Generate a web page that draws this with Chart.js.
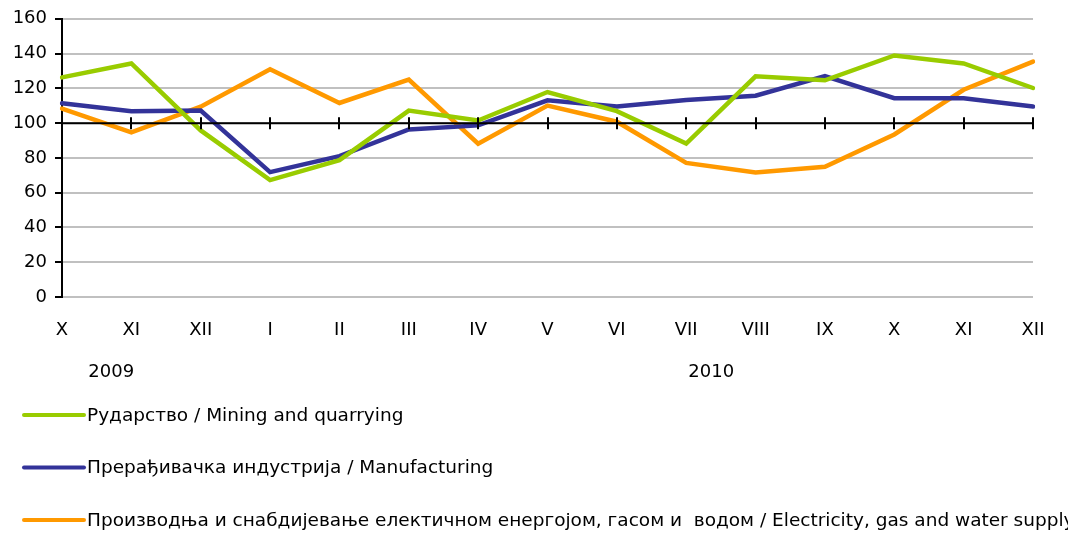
<!DOCTYPE html>
<html>
<head>
<meta charset="utf-8">
<script src="https://cdn.jsdelivr.net/npm/chart.js@4.4.1/dist/chart.umd.min.js"></script>
<style>
html,body{margin:0;padding:0;background:#fff;}
#wrap{width:1068px;height:536px;position:relative;overflow:hidden;}
</style>
</head>
<body>
<div id="wrap"><canvas id="c" width="1068" height="536"></canvas></div>
<script>
const months = ['X','XI','XII','I','II','III','IV','V','VI','VII','VIII','IX','X','XI','XII'];
const years = [{label:'2009', pos:0.71},{label:'2010', pos:9.36}];
const yTicks = [0,20,40,60,80,100,120,140,160];
const mining = [126.3,134.3,95.8,67.2,78.7,107.2,101.5,117.9,106.9,88.2,126.9,124.6,138.9,134.3,120.2];
const manufacturing = [111.4,106.9,107.2,71.8,81,96.4,98.7,113.1,109.5,113.3,115.8,127,114.3,114.3,109.5];
const electricity = [108.4,94.7,109.5,131,111.6,125,88.2,110.1,100.8,77.1,71.6,74.9,93.5,119.2,135.4];
const seriesNames = [
  'Рударство / Mining and quarrying',
  'Прерађивачка индустрија / Manufacturing',
  'Производња и снабдијевање електичном енергојом, гасом и  водом / Electricity, gas and water supply'
];
const colors = ['#99CC00','#333399','#FF9900'];
const FONT = 'DejaVu Sans, Verdana, sans-serif';

const overlay = {
  id:'overlay',
  afterDatasetsDraw(chart){
    const ctx = chart.ctx, x = chart.scales.x, y = chart.scales.y;
    const y100 = y.getPixelForValue(100);
    ctx.save();
    ctx.strokeStyle = '#000'; ctx.lineWidth = 2;
    ctx.beginPath();
    ctx.moveTo(x.left, y100); ctx.lineTo(x.right, y100);
    for (let i = 0; i < months.length; i++) {
      const px = Math.round(x.getPixelForValue(i));
      ctx.moveTo(px, y100 - 6); ctx.lineTo(px, y100 + 6);
    }
    ctx.stroke();
    ctx.restore();
  },
  afterDraw(chart){
    const ctx = chart.ctx, x = chart.scales.x;
    ctx.save();
    ctx.fillStyle = '#000';
    ctx.font = '18px ' + FONT;
    ctx.textAlign = 'center'; ctx.textBaseline = 'middle';
    years.forEach(yr => ctx.fillText(yr.label, x.getPixelForValue(yr.pos), 372));
    ctx.textAlign = 'left';
    ctx.font = '18.5px ' + FONT;
    chart.data.datasets.forEach((ds, i) => {
      const cy = 415 + i * 52.5;
      ctx.strokeStyle = ds.borderColor; ctx.lineWidth = 4; ctx.lineCap = 'round';
      ctx.beginPath(); ctx.moveTo(24, cy); ctx.lineTo(84, cy); ctx.stroke();
      ctx.fillText(ds.label, 87, cy + 1);
    });
    ctx.restore();
  }
};

new Chart(document.getElementById('c'), {
  type:'line',
  data:{
    labels: months,
    datasets:[
      {label:seriesNames[0], data:mining, borderColor:colors[0], backgroundColor:colors[0]},
      {label:seriesNames[1], data:manufacturing, borderColor:colors[1], backgroundColor:colors[1]},
      {label:seriesNames[2], data:electricity, borderColor:colors[2], backgroundColor:colors[2]}
    ]
  },
  options:{
    responsive:false, animation:false,
    layout:{padding:{top:17,right:35,left:0,bottom:0}},
    elements:{line:{borderWidth:4.5, tension:0, borderCapStyle:'round', borderJoinStyle:'miter'}, point:{radius:0}},
    plugins:{legend:{display:false}, tooltip:{enabled:false}},
    scales:{
      x:{
        offset:false,
        afterFit(s){ s.height = 239; },
        grid:{display:false, drawTicks:false},
        border:{display:false},
        ticks:{color:'#000', font:{family:FONT, size:18}, padding:23, maxRotation:0, autoSkip:false}
      },
      y:{
        min:0, max:160,
        afterFit(s){ s.width = 62; },
        afterBuildTicks(s){ s.ticks = yTicks.map(v => ({value:v})); },
        grid:{color:'#C0C0C0', lineWidth:2, drawTicks:true, tickLength:7, tickColor:'#000'},
        border:{display:true, color:'#000', width:2},
        ticks:{color:'#000', font:{family:FONT, size:18}, padding:8}
      }
    }
  },
  plugins:[overlay]
});
</script>
</body>
</html>
